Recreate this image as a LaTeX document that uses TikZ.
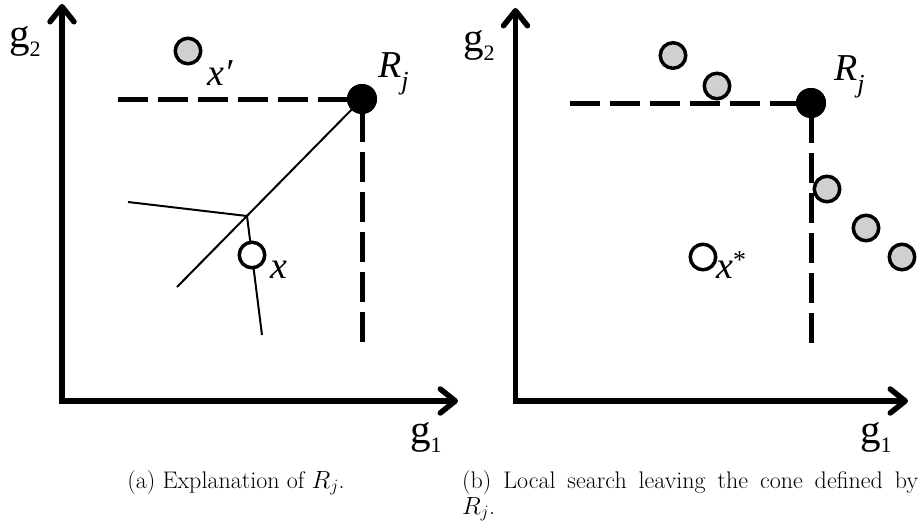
\documentclass[tikz,border=0pt]{standalone}
\usepackage{fontspec}
\newfontfamily\tnr{Liberation Serif}
\usetikzlibrary{arrows.meta}
\definecolor{ptgray}{RGB}{208,208,208}
\tikzset{
 axis/.style={line width=5.5pt, line join=miter,
   {Straight Barb[length=15pt,width=24pt,round]}-{Straight Barb[length=15pt,width=24pt,round]}},
 bound/.style={line width=5pt, dash pattern=on 30pt off 10pt},
 thinl/.style={line width=2pt},
 refpt/.style={circle, fill=black, minimum size=30pt, inner sep=0pt},
 otherpt/.style={circle, draw=black, line width=3.5pt, fill=ptgray, minimum size=25.5pt, inner sep=0pt},
 solpt/.style={circle, draw=black, line width=3.5pt, fill=white, minimum size=25.5pt, inner sep=0pt},
 lab/.style={anchor=base west, inner sep=0pt, font=\tnr},
 captxt/.style={inner sep=0pt, font=\fontsize{24}{28.8}\selectfont},
}
\newcommand{\gl}[1]{\fontsize{41}{41}\selectfont g\raisebox{-9pt}{\fontsize{22}{22}\selectfont #1}}
\newcommand{\rjl}{\fontsize{38}{38}\selectfont\itshape R\raisebox{-12pt}{\fontsize{26}{26}\selectfont j}}
\begin{document}
\begin{tikzpicture}[x=1pt,y=-1pt]
\useasboundingbox (0,0) rectangle (918,520);
% ---------- panel (a) ----------
\coordinate (ay) at (62,4);
\coordinate (ao) at (62,401);
\coordinate (ax) at (458,401);
\draw[axis] (ay) -- (ao) -- (ax);
\coordinate (ahs) at (118,99);
\coordinate (avs) at (362,342);
\coordinate (ab) at (247,216);
\coordinate (adl) at (177,287);
\coordinate (abl) at (128,202);
\coordinate (abd) at (262,335);
\node[refpt] (aR) at (362,99) {};
\draw[bound] (ahs) -- (aR.center);
\draw[bound] (avs) -- (aR.center);
\draw[thinl] (aR.center) -- (adl);
\draw[thinl] (ab) -- (abl);
\draw[thinl] (ab) -- (abd);
\node[refpt] at (aR) {};
\node[otherpt] (axp) at (188,51) {};
\node[solpt] (ax0) at (252,255) {};
\node[lab] (ag2) at (9,47) {\gl{2}};
\node[lab] (ag1) at (410,443) {\gl{1}};
\node[lab] (aRl) at (378,77) {\rjl};
\node[lab] (axpl) at (207,85) {\fontsize{38}{38}\selectfont\itshape x′};
\node[lab] (ax0l) at (270,278) {\fontsize{38}{38}\selectfont\itshape x};
\node[captxt, anchor=base] (acap) at (236,488) {(a) Explanation of $R_j$.};
% ---------- panel (b) ----------
\coordinate (by) at (515.5,8);
\coordinate (bo) at (515.5,401);
\coordinate (bx) at (908,401);
\draw[axis] (by) -- (bo) -- (bx);
\coordinate (bhs) at (570,103);
\coordinate (bvs) at (811,343);
\node[refpt] (bR) at (811,103) {};
\draw[bound] (bhs) -- (bR.center);
\draw[bound] (bvs) -- (bR.center);
\node[refpt] at (bR) {};
\node[otherpt] (bp1) at (673,55.5) {};
\node[otherpt] (bp2) at (717,86) {};
\node[otherpt] (bp3) at (827,189) {};
\node[otherpt] (bp4) at (866,228) {};
\node[otherpt] (bp5) at (902,257) {};
\node[solpt] (bxs) at (703,257) {};
\node[lab] (bg2) at (463,51) {\gl{2}};
\node[lab] (bg1) at (860,443) {\gl{1}};
\node[lab] (bRl) at (834,80) {\rjl};
\node[lab] (bxsl) at (716,278) {\fontsize{38}{38}\selectfont\itshape x\raisebox{10pt}{\fontsize{26}{26}\selectfont\upshape *}};
\node[captxt, anchor=base west] (bcap1) at (462,488) {\makebox[456pt][s]{(b) Local search leaving the cone defined by}};
\node[captxt, anchor=base west] (bcap2) at (462,514) {$R_j$.};
\end{tikzpicture}
\end{document}
